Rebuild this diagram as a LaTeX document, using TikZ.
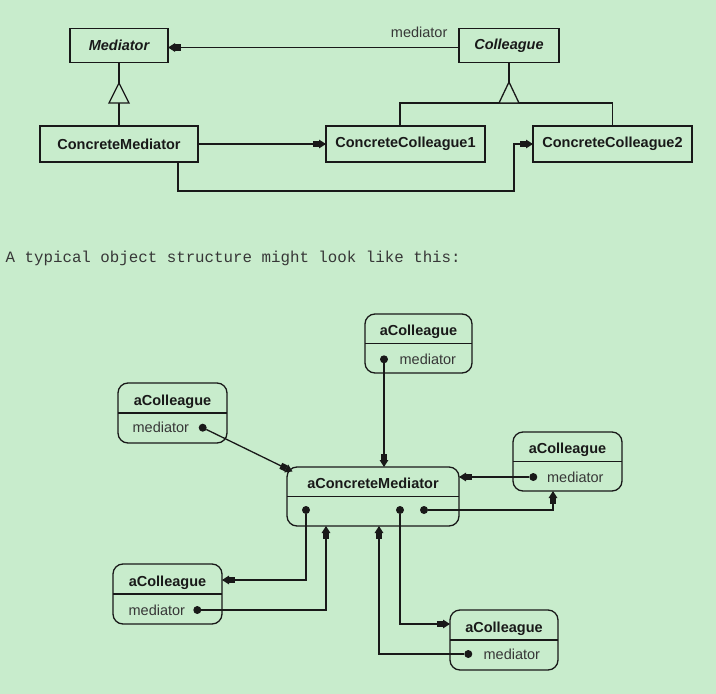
\documentclass[tikz,border=0pt]{standalone}
\usepackage{fontspec}
\setmainfont{Liberation Sans}
\setmonofont{Liberation Mono}
\usetikzlibrary{arrows.meta}
\definecolor{bg}{RGB}{200,236,204}
\definecolor{ink}{RGB}{25,25,25}
\definecolor{soft}{RGB}{55,55,55}
\begin{document}
\begin{tikzpicture}[x=1pt,y=-1pt,
  line width=1.3pt, color=ink,
  cls/.style={draw=ink, rectangle, inner sep=0pt, outer sep=0pt,
    font=\fontsize{14.5}{17}\selectfont\bfseries, text=ink},
  obj/.style={draw=ink, rectangle, rounded corners=10pt, inner sep=0pt, outer sep=0pt},
  ttl/.style={font=\fontsize{14.5}{17}\selectfont\bfseries, text=ink, inner sep=0pt, anchor=base},
  attr/.style={font=\fontsize{14.5}{17}\selectfont, text=soft, inner sep=0pt, anchor=base west},
  dot/.style={circle, fill=ink, draw=none, inner sep=0pt, minimum size=8pt, outer sep=0pt},
  arr/.style={-{Rectangle[length=6pt,width=6.5pt]Triangle[length=7pt,width=8.5pt]}},
  gen/.style={draw=ink, fill=bg, line join=miter},
]
\fill[bg] (0,0) rectangle (716,694);
\useasboundingbox (0,0) rectangle (716,694);

% ---------- class diagram ----------
\node[cls, minimum width=98pt, minimum height=34pt] (Med) at (119,45.5) {\itshape Mediator};
\node[cls, minimum width=100pt, minimum height=34pt] (Col) at (509,45.5) {\itshape Colleague};
\node[cls, minimum width=158pt, minimum height=36pt] (CM) at (119,144) {ConcreteMediator};
\node[cls, minimum width=159pt, minimum height=36pt] (CC1) at (405.5,144) {ConcreteColleague1};
\node[cls, minimum width=159pt, minimum height=36pt] (CC2) at (612.5,144) {ConcreteColleague2};

\node[attr, anchor=base east] (lab) at (448,37) {mediator};

\coordinate (ay) at (0,47.5);
\draw[arr] (Col.west |- ay) -- (Med.east |- ay);

\coordinate (g1) at (119,83);
\coordinate (g1b) at (119,103);
\draw (Med.south) -- (g1);
\draw (g1b) -- (CM.north);
\draw[gen] (g1) -- ++(10,20) -- ++(-20,0) -- cycle;

\coordinate (g2) at (509,82);
\coordinate (h1) at (400,103);
\coordinate (h2) at (612.5,103);
\draw (Col.south) -- (g2);
\draw (CC1.north -| h1) -- (h1) -- (h2) -- (CC2.north);
\draw[gen] (g2) -- ++(10,21) -- ++(-20,0) -- cycle;

\draw[arr] (CM.east) -- (CC1.west);
\coordinate (k1) at (178,191);
\coordinate (k2) at (514,191);
\draw[arr] (CM.south -| k1) -- (k1) -- (k2) -- (k2 |- CC2.west) -- (CC2.west);

% ---------- text ----------
\node[anchor=base west, font=\fontsize{15.8}{18}\selectfont\ttfamily, text=soft, inner sep=0pt] (txt) at (5,262) {A typical object structure might look like this:};

% ---------- object diagram ----------
\node[obj, minimum width=107pt, minimum height=59pt] (TC) at (418.5,343.5) {};
\node[obj, minimum width=109pt, minimum height=60pt] (LC) at (172.5,413) {};
\node[obj, minimum width=109pt, minimum height=59pt] (RC) at (567.5,461.5) {};
\node[obj, minimum width=172pt, minimum height=59pt] (M) at (373,496.5) {};
\node[obj, minimum width=109pt, minimum height=60pt] (BL) at (167.5,594) {};
\node[obj, minimum width=108pt, minimum height=60pt] (BR) at (504,640) {};

\foreach \b in {TC,LC,RC,M,BL,BR} { \draw (\b.west) -- (\b.east); }

% titles
\node[ttl] (tTC) at (418.5,335.5) {aColleague};
\node[ttl] (tLC) at (172.5,405) {aColleague};
\node[ttl] (tRC) at (567.5,453.5) {aColleague};
\node[ttl] (tM) at (373,488.5) {aConcreteMediator};
\node[ttl] (tBL) at (167.5,586) {aColleague};
\node[ttl] (tBR) at (504,632) {aColleague};

% attributes
\node[attr] (aLC) at (132,432.7) {mediator};
\node[attr] (aTC) at (399,364.3) {mediator};
\node[attr] (aRC) at (546.5,482.3) {mediator};
\node[attr] (aBR) at (483,659.3) {mediator};
\node[attr] (aBL) at (128,615) {mediator};

% dots
\node[dot] (lcd) at (202.7,427.7) {};
\node[dot] (tcd) at (384,359.3) {};
\node[dot] (rcd) at (533.3,477) {};
\node[dot] (brd) at (468.3,654) {};
\node[dot] (bld) at (197.3,610) {};
\node[dot] (md1) at (306,510) {};
\node[dot] (md2) at (400,510) {};
\node[dot] (md3) at (424,510) {};

% connectors
\coordinate (mc) at (292.5,471.5);
\draw[arr] (lcd) -- (mc);
\draw[arr] (tcd) -- (tcd |- M.north);
\draw[arr] (rcd) -- (rcd -| M.east);
\coordinate (r1) at (553,510);
\draw[arr] (md3) -- (r1) -- (r1 |- RC.south);
\coordinate (b1) at (400,624);
\draw[arr] (md2) -- (b1) -- (b1 -| BR.west);
\coordinate (b2) at (379,654);
\draw[arr] (brd) -- (b2) -- (b2 |- M.south);
\coordinate (l1) at (306,580);
\draw[arr] (md1) -- (l1) -- (l1 -| BL.east);
\coordinate (l2) at (326,610);
\draw[arr] (bld) -- (l2) -- (l2 |- M.south);
\end{tikzpicture}
\end{document}
